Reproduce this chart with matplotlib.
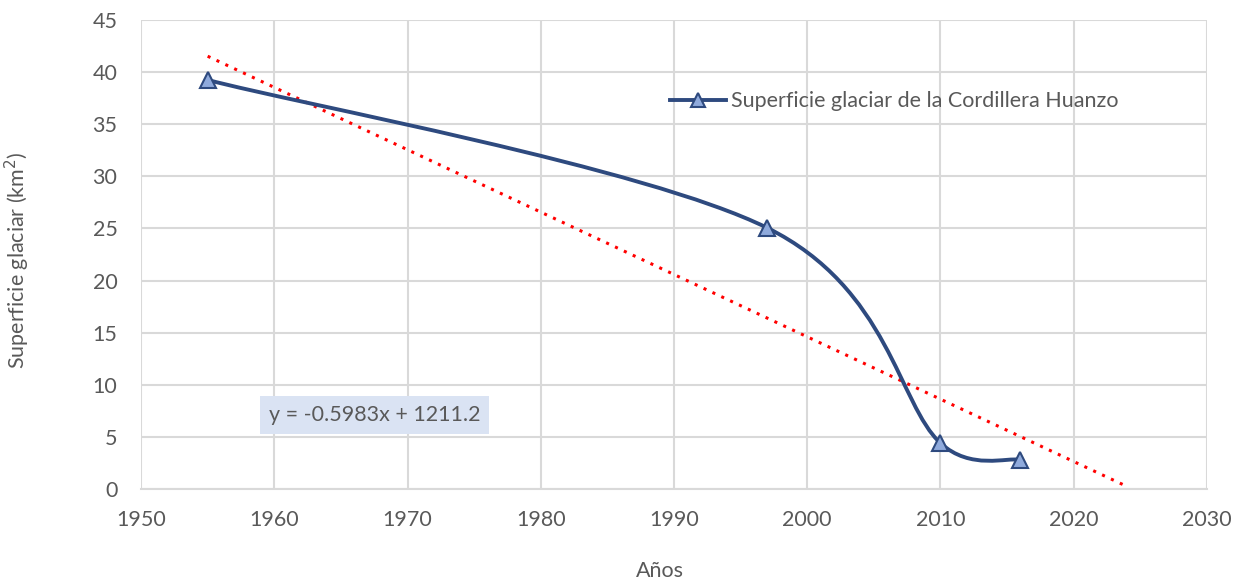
import numpy as np
import matplotlib.pyplot as plt
from matplotlib.path import Path
from matplotlib.patches import PathPatch
from matplotlib.lines import Line2D

# Glacier surface, Cordillera Huanzo
years = [1955, 1997, 2010, 2016]
area_km2 = [39.25, 25.05, 4.4, 2.8]

# Linear trend reported on the chart
slope = -0.5983
intercept = 1211.2
trend_years = [1955, 2024]

x_ticks = list(range(1950, 2031, 10))
y_ticks = list(range(0, 46, 5))

text_color = '#595959'
line_color = '#2E4A7F'
marker_fill = '#8FAADC'
grid_color = '#D9D9D9'
fs = 15.5

plt.rcParams['font.family'] = ['Lato', 'DejaVu Sans']

fig = plt.figure(figsize=(12.47, 5.84), dpi=100)
ax = fig.add_axes([0.1131, 0.1627, 0.8548, 0.8031])
ax.set_xlim(1950, 2030)
ax.set_ylim(0, 45)


def smooth_path(ax, xs, ys):
    # Bezier segments with Catmull-Rom control points, worked out in pixel space;
    # each control arm is limited to half of its segment's chord
    pts = ax.transData.transform(np.column_stack([xs, ys]))
    n = len(pts)
    verts = [pts[0]]
    codes = [Path.MOVETO]
    for i in range(n - 1):
        p0 = pts[i - 1] if i > 0 else pts[i]
        p1 = pts[i]
        p2 = pts[i + 1]
        p3 = pts[i + 2] if i + 2 < n else pts[i + 1]
        chord = np.hypot(*(p2 - p1))
        a1 = (p2 - p0) / 6.0
        a2 = (p3 - p1) / 6.0
        for a in (a1, a2):
            length = np.hypot(*a)
            if length > chord / 2:
                a *= (chord / 2) / length
        verts += [p1 + a1, p2 - a2, p2]
        codes += [Path.CURVE4] * 3
    verts = ax.transData.inverted().transform(np.array(verts))
    return Path(verts, codes)


# trend line
tx = np.array(trend_years)
ax.plot(tx, slope * tx + intercept, color='#FF0000', linestyle=(0, (1, 2.2)),
        linewidth=2.2, zorder=3)

# smoothed series line and markers
ax.add_patch(PathPatch(smooth_path(ax, years, area_km2), facecolor='none',
                       edgecolor=line_color, linewidth=2.8, zorder=4,
                       capstyle='round', joinstyle='round'))
ax.plot(years, area_km2, linestyle='none', marker='^', markersize=12,
        markerfacecolor=marker_fill, markeredgecolor=line_color,
        markeredgewidth=1.5, zorder=5)

ax.set_xticks(x_ticks)
ax.set_yticks(y_ticks)
ax.grid(True, color=grid_color, linewidth=1.5)
ax.set_axisbelow(True)
for side in ['top', 'right', 'left']:
    ax.spines[side].set_visible(False)
ax.spines['bottom'].set_color(grid_color)
ax.spines['bottom'].set_linewidth(1.5)
ax.tick_params(length=0, labelsize=fs, colors=text_color)
ax.tick_params(axis='y', pad=17)
ax.tick_params(axis='x', pad=15)

ax.set_xlabel('Años', fontsize=fs, color=text_color)
ax.set_ylabel('Superficie glaciar (km$^2$)', fontsize=fs, color=text_color)
ax.xaxis.set_label_coords(0.487, -0.154)
ax.yaxis.set_label_coords(-0.102, 0.488)

# trend equation
ax.text(1959.6, 7.1, 'y = -0.5983x + 1211.2', fontsize=fs, color=text_color,
        va='center', ha='left', zorder=6,
        bbox=dict(boxstyle='square,pad=0.4', facecolor='#DAE3F3', edgecolor='none'))

handle = Line2D([], [], color=line_color, linewidth=2.8, marker='^', markersize=10,
                markerfacecolor=marker_fill, markeredgecolor=line_color, markeredgewidth=1.5)
ax.legend([handle], ['Superficie glaciar de la Cordillera Huanzo'], loc='center left',
          bbox_to_anchor=(0.478, 0.827), frameon=False, fontsize=fs,
          labelcolor=text_color, handlelength=2.6, handletextpad=0.25)

fig.savefig('out.png', dpi=100)
